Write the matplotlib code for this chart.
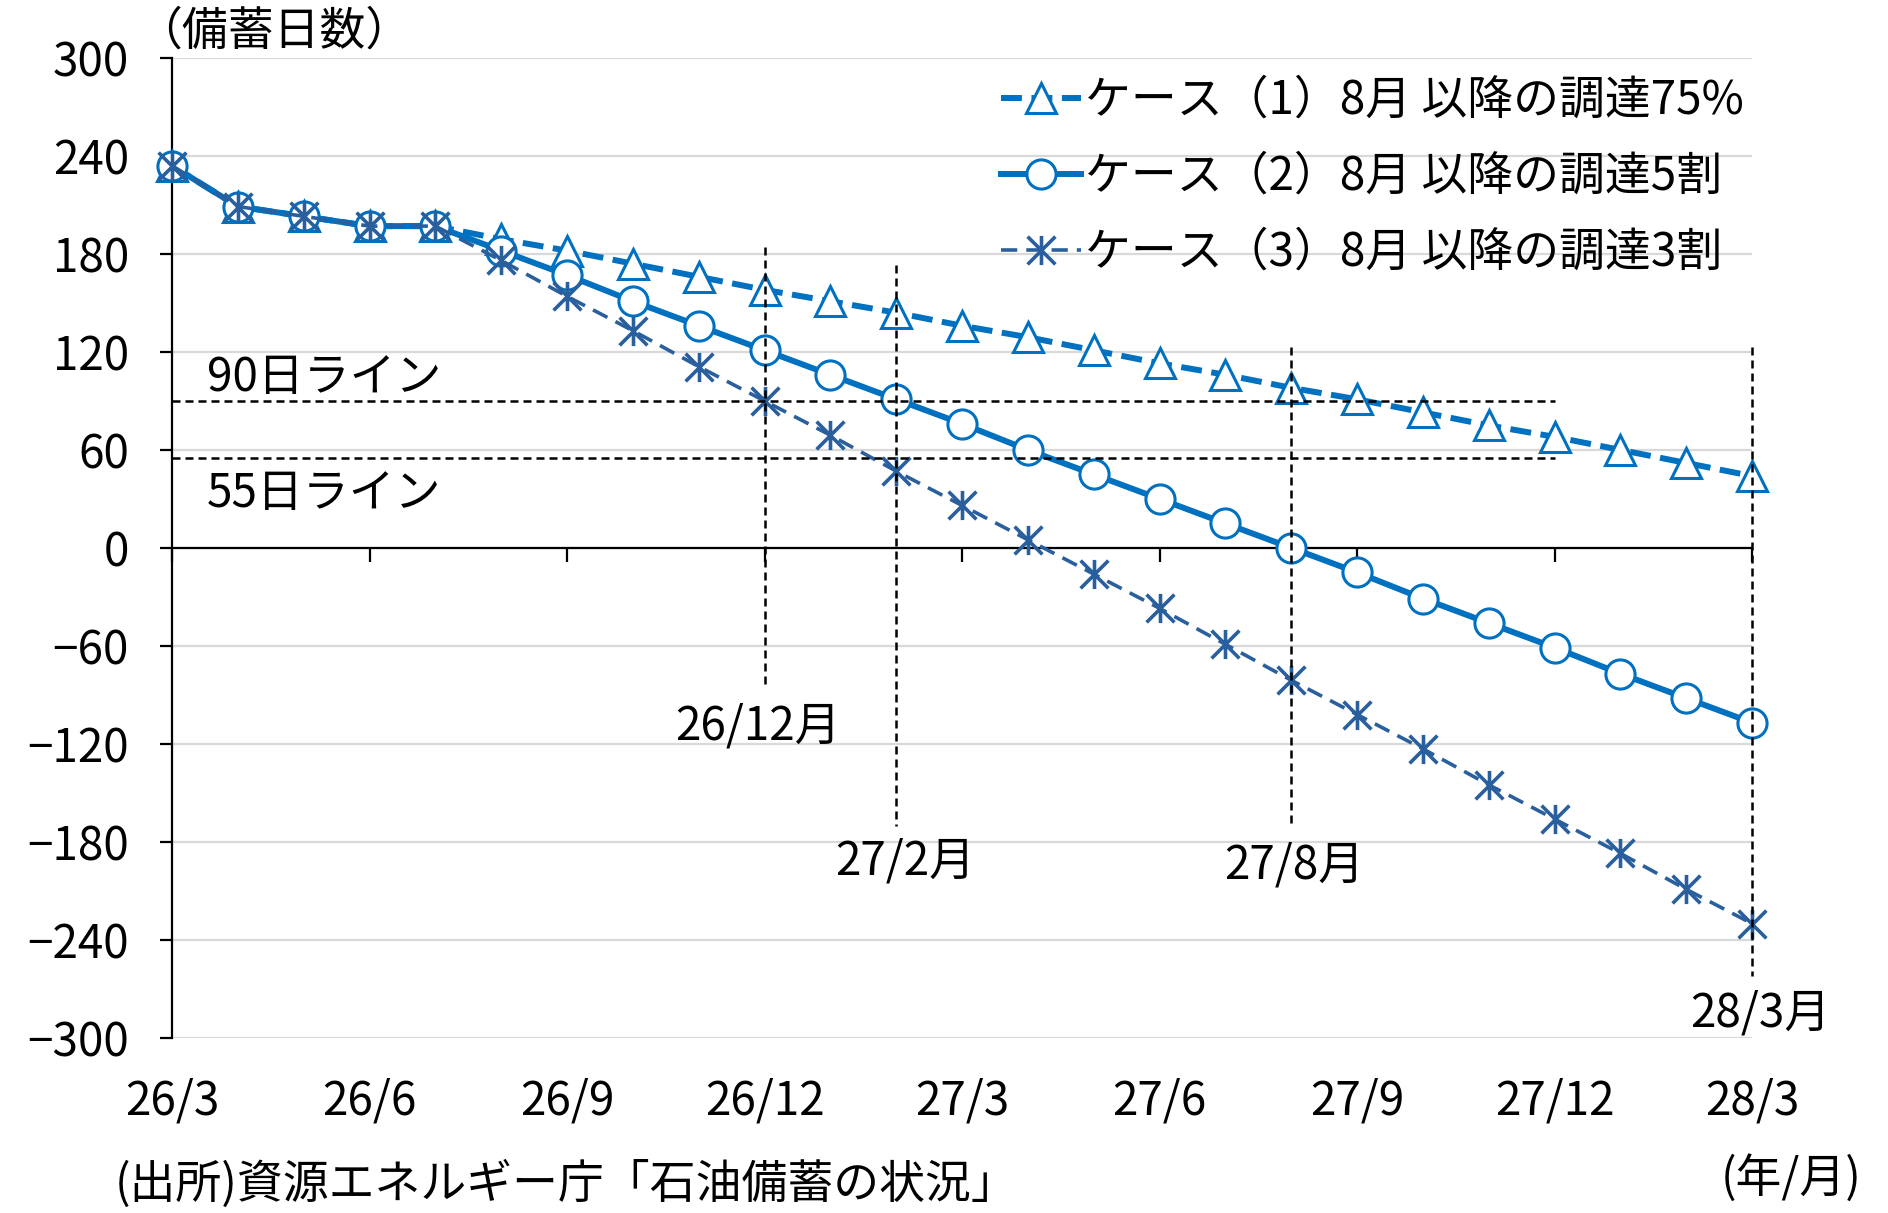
import numpy as np
import matplotlib
matplotlib.use('Agg')
import matplotlib.pyplot as plt
from matplotlib.path import Path

plt.rcParams['font.family'] = ['Noto Sans CJK JP', 'DejaVu Sans']

# months from 26/3 to 28/3
month_idx = np.arange(25)
case1 = [234, 209, 203, 197, 197, 189, 182, 174, 166, 158, 151, 144, 136,
         129, 121, 113, 106, 98, 91, 83, 75, 68, 60, 52, 44]
case2 = [234, 209, 203, 197, 197, 182, 167, 151, 136, 121, 106, 91, 76,
         60, 45, 30, 15, 0, -15, -31, -46, -61, -77, -92, -107]
case3 = [234, 209, 203, 197, 197, 176, 154, 133, 111, 90, 69, 47, 26,
         5, -16, -37, -59, -81, -102, -123, -145, -166, -187, -209, -230]
labels = ['ケース（1）8月 以降の調達75%',
          'ケース（2）8月 以降の調達5割',
          'ケース（3）8月 以降の調達3割']

xtick_pos = [0, 3, 6, 9, 12, 15, 18, 21, 24]
xtick_labels = ['26/3', '26/6', '26/9', '26/12', '27/3', '27/6', '27/9', '27/12', '28/3']
yticks = [300, 240, 180, 120, 60, 0, -60, -120, -180, -240, -300]

# reference lines
hlines = [90, 55]
hline_labels = ['90日ライン', '55日ライン']
hline_label_y = [104, 33]
hline_end = 21
vlines_x = [9, 11, 17, 24]
vlines_top = [184, 173, 123, 123]
vlines_bottom = [-85, -170, -170, -262]
vline_labels = ['26/12月', '27/2月', '27/8月', '28/3月']
vline_label_x = [8.9, 11.13, 17.04, 24.13]
vline_label_y = [-109, -192, -194, -285]

blue = '#0070C0'
dark = '#2A5F9E'
fs = 33

star = Path([(-1, -1), (1, 1), (-1, 1), (1, -1), (0, -1.05), (0, 1.05)],
            [Path.MOVETO, Path.LINETO] * 3)

fig = plt.figure(figsize=(18.88, 12.13), dpi=100)
ax = fig.add_axes([0.0911, 0.1443, 0.8369, 0.808])

ax.set_xlim(0, 24)
ax.set_ylim(-300, 300)
ax.set_yticks(yticks)
ax.set_yticklabels([str(v).replace('-', '\u2212') for v in yticks], fontsize=fs)
ax.set_xticks(xtick_pos)
ax.set_xticklabels([])
for y in yticks:
    ax.plot([0, 24], [y, y], color='#D9D9D9', lw=1.6, zorder=0)

for s in ['top', 'right']:
    ax.spines[s].set_visible(False)
ax.spines['bottom'].set_position(('data', 0))
ax.spines['bottom'].set_linewidth(1.6)
ax.spines['left'].set_linewidth(1.6)
ax.tick_params(axis='y', length=9, width=1.6, pad=22)
ax.tick_params(axis='x', length=10, width=1.6, direction='out')

ax.plot(month_idx, case1, color=blue, lw=4.3, ls=(0, (3.5, 1.6)),
        marker='^', ms=22, mfc='white', mec=blue, mew=2.2, clip_on=False,
        label=labels[0], zorder=3)
ax.plot(month_idx, case2, color=blue, lw=4.3, ls='-',
        marker='o', ms=21, mfc='white', mec=blue, mew=2.2, clip_on=False,
        label=labels[1], zorder=4)
ax.plot(month_idx, case3, color=dark, lw=2.6, ls=(0, (4.5, 2.5)),
        marker=star, ms=21, mfc='none', mec=dark, mew=2.6, clip_on=False,
        label=labels[2], zorder=5)

for lv, txt, ty in zip(hlines, hline_labels, hline_label_y):
    ax.plot([0, hline_end], [lv, lv], color='black', lw=1.8,
            ls=(0, (3.2, 2)), zorder=6)
    ax.text(0.53, ty, txt, fontsize=fs, ha='left', va='center')

for x, t, b in zip(vlines_x, vlines_top, vlines_bottom):
    ax.plot([x, x], [t, b], color='black', lw=1.8, ls=(0, (3.2, 2)),
            zorder=6, clip_on=False)
for lx, ly, txt in zip(vline_label_x, vline_label_y, vline_labels):
    ax.text(lx, ly, txt, fontsize=fs, ha='center', va='center', clip_on=False)

for x, txt in zip(xtick_pos, xtick_labels):
    ax.text(x, -339, txt, fontsize=fs, ha='center', va='center', clip_on=False)

ax.text(24.6, -386, '(年/月)', fontsize=fs, ha='center', va='center', clip_on=False)
fig.text(0.072, 0.974, '（備蓄日数）', fontsize=fs, ha='left', va='center')
fig.text(0.061, 0.023, '(出所)資源エネルギー庁「石油備蓄の状況」', fontsize=fs,
         ha='left', va='center')

ax.legend(loc='upper left', bbox_to_anchor=(0.530, 0.937),
          bbox_transform=fig.transFigure, frameon=False, fontsize=fs,
          handlelength=1.75, handletextpad=0.1, labelspacing=0.6,
          borderpad=0, borderaxespad=0)

fig.savefig('out.png', dpi=100)
